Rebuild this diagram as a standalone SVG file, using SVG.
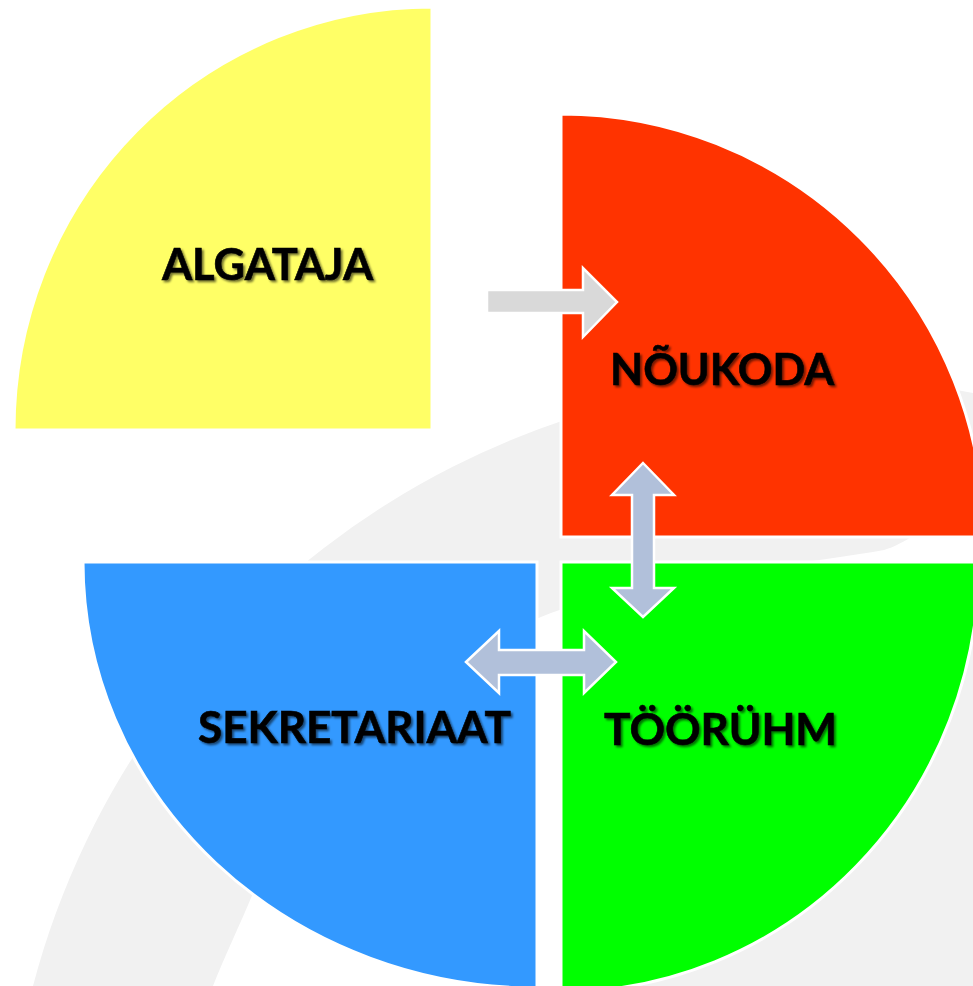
<svg xmlns="http://www.w3.org/2000/svg" width="973" height="986" viewBox="0 0 973 986">
  <defs>
    <filter id="shadow" x="-10%" y="-30%" width="120%" height="160%">
      <feDropShadow dx="2" dy="2" stdDeviation="1.2" flood-color="#000000" flood-opacity="0.55"/>
    </filter>
  </defs>
  <style>
    .quad { stroke: #ffffff; stroke-width: 3; }
    .lbl { font-family: Lato, "Open Sans", "Liberation Sans", sans-serif; font-weight: bold; font-size: 44px; fill: #000000; stroke: #000000; stroke-width: 0.6; filter: url(#shadow); }
    .bg { fill: #f1f1f1; stroke: none; }
    .arrow-gray { fill: #d9d9d9; stroke: #ffffff; stroke-width: 2.5; stroke-linejoin: miter; }
    .arrow-blue { fill: #b1c0da; stroke: #ffffff; stroke-width: 2.5; stroke-linejoin: miter; }
  </style>

  <rect x="0" y="0" width="973" height="986" fill="#ffffff"/>

  <g id="background">
    <path class="bg" d="M33,986 A815,815 0 0 1 973,393 L973,490 C940,515 910,543 884,550 C800,565 640,580 551,613 C430,660 300,790 253,893 C240,925 225,955 213,986 Z"/>
    <path class="bg" d="M973,605 C850,700 720,840 625,986 L973,986 Z"/>
  </g>

  <g id="algataja">
    <path class="quad" fill="#ffff66" d="M432,430 L14,430 A418,423 0 0 1 432,7 Z"/>
    <text class="lbl" x="162" y="280" textLength="211" lengthAdjust="spacingAndGlyphs">ALGATAJA</text>
  </g>

  <g id="noukoda">
    <path class="quad" fill="#ff3300" d="M561,537 L561,114 A423,423 0 0 1 984,537 Z"/>
    <text class="lbl" x="610" y="385" textLength="224" lengthAdjust="spacingAndGlyphs">NÕUKODA</text>
  </g>

  <g id="sekretariaat">
    <path class="quad" fill="#3399ff" d="M537,562 L537,988 A454,426 0 0 1 83,562 Z"/>
    <text class="lbl" x="198" y="743" textLength="313" lengthAdjust="spacingAndGlyphs">SEKRETARIAAT</text>
  </g>

  <g id="toorühm">
    <path class="quad" fill="#00ff00" d="M561,562 L979,562 A418,430 0 0 1 561,992 Z"/>
    <text class="lbl" x="604" y="745" textLength="233" lengthAdjust="spacingAndGlyphs">TÖÖRÜHM</text>
  </g>

  <g id="connectors">
    <path class="arrow-gray" d="M487,290 L583,290 L583,268 L617,302 L583,337 L583,313 L487,313 Z"/>
    <path class="arrow-blue" d="M643,463 L674,495 L654,495 L654,588 L674,588 L643,617 L612,588 L632,588 L632,495 L612,495 Z"/>
    <path class="arrow-blue" d="M466,662 L499,631 L499,650 L584,650 L584,631 L616,662 L584,693 L584,675 L499,675 L499,693 Z"/>
  </g>
</svg>
